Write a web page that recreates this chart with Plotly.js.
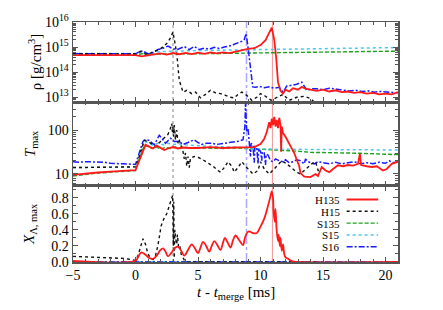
<!DOCTYPE html>
<html><head><meta charset="utf-8">
<script src="https://cdn.plot.ly/plotly-3.0.1.min.js"></script>
<style>html,body{margin:0;padding:0;background:#fff}#chart{width:443px;height:310px}</style>
</head><body><div id="chart"></div>
<script>
// ---------- data ----------
const modelNames = ['H135','H15','S135','S15','S16'];
const xTicks = [-5,0,5,10,15,20];
const rhoTickVals = [1e13,1e14,1e15,1e16];
const rhoTickText = ['10<sup>13</sup>','10<sup>14</sup>','10<sup>15</sup>','10<sup>16</sup>'];
const tTickVals = [10,100];
const tTickText = ['10','100'];
const xlTickVals = [0,0.2,0.4,0.6,0.8];
const xlTickText = ['0.0','0.2','0.4','0.6','0.8'];
const collapseTimes = [3.0, 8.88, 10.95]; // H15, S16, H135

// density panel
const rho_H135_t = [-5,-3,-1,0,0.5,1.0,1.5,2.0,2.5,3.0,3.5,4.0,4.5,5.0,5.5,6.0,6.5,7.0,7.5,8.0,8.5,9.0,9.5,10.0,10.4,10.7,10.9,11.0,11.1,11.25,11.4,11.6,11.8,12.0,12.3,12.6,13.0,13.3,13.6,14.0,14.5,15.0,15.5,16.0,16.5,17.0,17.5,18.0,18.5,19.0,19.5,20.0,20.5,21.0];
const rho_H135 = [4.8e14,4.8e14,4.8e14,4.8e14,4.3e14,4.6e14,5.2e14,5.6e14,5.0e14,5.8e14,5.2e14,5.9e14,5.3e14,6.0e14,5.4e14,6.1e14,5.6e14,6.2e14,5.8e14,6.6e14,7.5e14,8.5e14,9.0e14,1.2e15,1.9e15,3.5e15,6.0e15,3.5e15,1.9e15,4.0e14,4.0e13,1.8e13,1.4e13,2.0e13,1.7e13,2.3e13,2.0e13,2.6e13,2.2e13,2.0e13,1.8e13,2.0e13,1.7e13,1.9e13,1.6e13,1.7e13,1.5e13,1.6e13,1.4e13,1.5e13,1.3e13,1.4e13,1.3e13,1.6e13];
const rho_H15_t = [-5,-1,0,0.4,0.7,1.0,1.5,2.0,2.5,2.8,3.0,3.15,3.3,3.5,3.8,4.1,4.5,4.8,5.2,5.6,6.0,6.4,6.8,7.2,7.6,7.9,8.2,8.5,8.9,9.3,9.7,10.0,10.4,10.85,11.3,11.8,12.3,12.9,13.5,14.0,14.3,14.6];
const rho_H15 = [5.5e14,5.5e14,5.3e14,6.8e14,5.5e14,5.2e14,6.5e14,8.5e14,1.4e15,2.3e15,4.0e15,1.5e15,5.5e14,4.8e13,1.6e13,1.9e13,1.4e13,1.6e13,9.5e12,1.3e13,1.9e13,1.5e13,1.4e13,1.2e13,1.0e13,9.5e12,1.3e13,1.6e13,1.2e13,7.6e12,1.0e13,1.4e13,1.1e13,7.6e12,1.0e13,1.3e13,7.6e12,1.0e13,1.1e13,9.0e12,6.5e12,5.5e12];
const rho_S135_t = [-5,0,0.5,1,2,3,4,6,8,10,12,14,16,18,21];
const rho_S135 = [5.0e14,5.0e14,5.4e14,5.1e14,5.3e14,5.3e14,5.4e14,5.5e14,5.7e14,5.9e14,6.1e14,6.3e14,6.5e14,6.7e14,6.9e14];
const rho_S15_t = [-5,0,0.5,1,2,3,4,5,6,8,10,12,14,16,18,21];
const rho_S15 = [5.5e14,5.5e14,6.2e14,6.0e14,6.6e14,7.0e14,7.1e14,7.3e14,7.4e14,7.7e14,8.1e14,8.4e14,8.7e14,8.9e14,9.2e14,9.6e14];
const rho_S16_t = [-5,-1,0,0.3,0.6,0.9,1.2,1.5,1.8,2.2,2.6,3.0,3.4,3.9,4.3,4.7,5.1,5.5,5.9,6.3,6.7,7.1,7.5,7.9,8.2,8.5,8.7,8.85,9.0,9.2,9.38,9.6,9.9,10.3,10.7,11.1,11.5,11.8,12.1,12.5,12.9,13.3,13.7,14.1,14.5,15.0,15.5,16.1,16.6,17.1,17.6,18.1,18.6,19.1,19.6,20.1,20.6,21];
const rho_S16 = [5.5e14,5.5e14,5.4e14,6.5e14,7.0e14,5.6e14,5.4e14,6.5e14,8.0e14,9.0e14,1.1e15,8.5e14,8.2e14,1.05e15,8.0e14,1.05e15,8.0e14,9.0e14,8.2e14,9.8e14,8.8e14,1.0e15,1.1e15,1.3e15,1.45e15,1.7e15,2.0e15,3.5e15,1.0e15,1.2e14,2.6e13,2.5e13,2.7e13,2.4e13,2.6e13,2.3e13,2.5e13,1.6e13,2.8e13,3.0e13,3.3e13,4.0e13,1.9e13,2.2e13,2.2e13,2.0e13,2.3e13,2.1e13,1.9e13,1.8e13,1.9e13,1.7e13,1.8e13,1.6e13,1.7e13,1.6e13,1.5e13,1.5e13];

// temperature panel
const T_H135_t = [-5,-4,-3,-2,-1,0,0.3,0.6,0.8,1.1,1.4,1.7,2.0,2.3,2.6,3.0,3.4,3.8,4.3,5,6,7,8,9,9.5,10.0,10.3,10.5,10.7,10.8,10.9,11.0,11.1,11.2,11.3,11.4,11.5,11.6,11.65,11.7,11.8,12.0,12.2,12.4,12.7,12.9,13.1,13.2,13.5,14.0,14.4,14.6,14.9,15.2,15.5,15.8,16.2,16.6,17.0,17.4,17.8,17.95,18.05,18.5,18.9,19.3,19.8,20.1,20.5,21];
const T_H135 = [9.5,10.2,10.8,11.3,11.8,12.3,20,35,46,42,38,44,39,35,38,41,38,40,39,39,41,39,40,40,41,48,63,90,150,110,180,130,200,120,170,110,190,130,32,120,85,70,55,42,30,21,15,10.5,8.7,8.5,10,9,14.4,12,11,13,15.8,15,16,15.5,17,29,16,15,14.4,15,12,13,17,19];
const T_H15_t = [-5,-3,-1,0,0.3,0.7,1.0,1.3,1.6,2.0,2.3,2.6,2.8,2.9,2.95,3.0,3.05,3.1,3.2,3.3,3.4,3.5,3.6,3.75,3.9,4.0,4.1,4.2,4.3,4.4,4.7,5.0,5.4,5.8,6.2,6.6,6.8,7.1,7.4,7.7,7.9,8.2,8.5,8.9,9.4,9.8,10.0,10.3,10.7,11.2,11.7,12.1,12.5,12.9,13.2,13.5,13.8,14.1,14.4,14.6,14.7];
const T_H15 = [14,14,14.5,14.5,25,58,55,48,42,55,65,80,110,140,90,120,70,130,60,100,50,60,45,40,22,30,15,25,14,23,25,24,21,18,15,12,11,14,19,15,11,14,19,14,10,12,19,13,10,14,20,17,14,11,10,12,14,17,19,12,10];
const T_S135_t = [-5,-4,-3,-2,-1,0,0.3,0.7,1.0,1.3,1.6,2,2.4,2.8,3.2,3.6,4,5,6,7,8,9,10,11,12,13,14,15,16,17,18,19,20,21];
const T_S135 = [9,9.8,10.5,11,11.5,12,22,45,42,38,42,37,40,38,41,38,40,39,38,38,39,38,37,36,35,33,31,31,31,30,29.5,29,28,27.5];
const T_S15_t = [-5,-3,-1,0,0.3,0.7,1.0,1.4,1.8,2.2,2.6,3,3.5,4,5,6,7,8,8.5,9,10,12,14,16,18,21];
const T_S15 = [14,14.2,14.5,14.5,25,55,52,45,50,46,50,47,48,46,44,43,42,41,40,38,37,36.5,36,35.5,35,35];
const T_S16_t = [-5,-4.5,-4,-3.5,-3,-2.5,-2,-1.5,-1,-0.5,0,0.3,0.6,0.8,1.1,1.5,1.9,2.1,2.4,2.8,3.1,3.5,3.8,4.2,4.7,5.0,5.3,5.7,6.1,6.5,7.0,7.5,7.9,8.3,8.6,8.75,8.8,8.85,8.9,9.0,9.1,9.2,9.25,9.4,9.5,9.55,9.7,9.8,9.85,10.0,10.1,10.15,10.3,10.4,10.45,10.6,10.8,11.0,11.2,11.5,11.8,12.0,12.3,12.6,12.9,13.2,13.5,13.6,13.8,14.0,14.3,14.6,15,15.5,16,16.5,17,17.5,18,18.5,19,19.5,20,20.3,20.6,21];
const T_S16 = [19,18.5,19,18.8,18,18.5,17.5,17.5,17,16.8,16.5,30,55,61,58,46,76,65,50,65,55,55,47,52,60,52,47,50,50,47,49,51,53,56,60,120,398,200,90,110,55,25,50,45,18,42,40,17,35,33,20,32,30,16,28,27,20,19,22,20,19,21,18,19,21,20,17,22,19,18,17,19,18,17,18.5,17,18,19,17,18,17,18.5,17.5,20,18,19];

// hyperon fraction panel
const XL_H135_t = [-5,0,0.2,0.46,0.8,1.1,1.4,1.7,2.0,2.2,2.4,2.6,2.9,3.2,3.4,3.65,3.9,4.2,4.5,4.75,5.0,5.2,5.4,5.65,5.9,6.1,6.3,6.55,6.8,7.0,7.15,7.35,7.6,7.8,8.0,8.3,8.6,8.75,8.95,9.1,9.4,9.7,10.0,10.3,10.6,10.8,10.9,11.0,11.05,11.15,11.2,11.3,11.4,11.45,11.55,11.6,11.7,11.8,11.9,12.0,12.2,12.5,13,21];
const XL_H135 = [0.015,0.015,0.06,0.12,0.09,0.05,0.04,0.08,0.15,0.17,0.13,0.07,0.12,0.18,0.19,0.14,0.08,0.15,0.22,0.17,0.11,0.18,0.25,0.2,0.13,0.2,0.26,0.21,0.15,0.24,0.3,0.25,0.18,0.27,0.33,0.27,0.21,0.3,0.37,0.38,0.36,0.36,0.44,0.54,0.7,0.82,0.88,0.8,0.62,0.5,0.66,0.38,0.26,0.34,0.2,0.3,0.14,0.22,0.1,0.06,0.04,0.01,0,0];
const XL_H15_t = [-5,-4,-3,-2,-1,-0.5,0,0.2,0.4,0.6,0.8,1.0,1.2,1.4,1.6,1.8,2.05,2.3,2.5,2.7,2.85,2.97,3.0,3.03,3.06,3.1,3.15,3.2,3.3,3.35,3.45,3.55,3.65,3.8,3.95,4.1,14.7];
const XL_H15 = [0.07,0.065,0.06,0.055,0.045,0.035,0.02,0.08,0.2,0.29,0.22,0.1,0.05,0.03,0.08,0.21,0.45,0.55,0.6,0.69,0.76,0.83,0.6,0.2,0.75,0.05,0.4,0.3,0.22,0.34,0.18,0.2,0.1,0.05,0.01,0,0];
const XL_S135_t = [-5,0,5,10,15,21];
const XL_S135 = [0,0,0,0,0,0];
const XL_S15_t = [-5,0,5,10,15,21];
const XL_S15 = [0,0,0,0,0,0];
const XL_S16_t = [-5,0,5,10,15,21];
const XL_S16 = [0,0,0,0,0,0];

// ---------- styles ----------
const FONT = '"Liberation Serif", "Times New Roman", serif';
const style = {
  H135: {color:'#ff1a1a', dash:'solid', width:1.8},
  H15:  {color:'#111111', dash:'dot', width:1.4},
  S135: {color:'#1ea01e', dash:'4px,2px', width:1.4},
  S15:  {color:'#4cc6ea', dash:'dot', width:1.5},
  S16:  {color:'#1a1aff', dash:'6px,2px,2px,2px', width:1.5}
};
const panels = [
  {xa:'x', ya:'y', data:{H135:[rho_H135_t,rho_H135],H15:[rho_H15_t,rho_H15],S135:[rho_S135_t,rho_S135],S15:[rho_S15_t,rho_S15],S16:[rho_S16_t,rho_S16]}},
  {xa:'x2', ya:'y2', data:{H135:[T_H135_t,T_H135],H15:[T_H15_t,T_H15],S135:[T_S135_t,T_S135],S15:[T_S15_t,T_S15],S16:[T_S16_t,T_S16]}},
  {xa:'x3', ya:'y3', data:{H135:[XL_H135_t,XL_H135],H15:[XL_H15_t,XL_H15],S135:[XL_S135_t,XL_S135],S15:[XL_S15_t,XL_S15],S16:[XL_S16_t,XL_S16]}}
];
const drawOrder = ['S135','S15','S16','H15','H135'];
const traces = [];
panels.forEach((p, pi) => {
  drawOrder.forEach(n => {
    const s = style[n];
    const line = {color:s.color, dash:s.dash, width:s.width};
    if (pi === 2 && n === 'H135') { line.shape = 'spline'; line.smoothing = 1.0; }
    traces.push({type:'scatter', mode:'lines', name:n, x:p.data[n][0], y:p.data[n][1],
      xaxis:p.xa, yaxis:p.ya, line:line, showlegend:false, hoverinfo:'skip'});
  });
});

// ---------- layout ----------
const frame = '#555';
const tickFont = {family:FONT, size:14, color:'#000'};
function xAxis(anchor, labels) {
  return {range:[-5,21], anchor:anchor, tickvals:xTicks, ticks:'inside', ticklen:5, tickcolor:frame,
    showline:true, linecolor:frame, linewidth:1.5, mirror:'allticks', showgrid:false, zeroline:false,
    showticklabels:labels, tickfont:tickFont,
    minor:{ticks:'inside', ticklen:3, dtick:1, tick0:0, tickcolor:frame}};
}
function logMinor(lo, hi) {
  const v = [];
  for (let e = lo; e <= hi; e++) for (let m = 2; m <= 9; m++) v.push(m * Math.pow(10, e));
  return v;
}
const dom3 = [0, 0.318], dom2 = [0.318, 0.6654], dom1 = [0.6654, 1];
function yBase(domain) {
  return {domain:domain, ticks:'inside', ticklen:5, tickcolor:frame, showline:true, linecolor:frame,
    linewidth:1.5, mirror:'allticks', showgrid:false, zeroline:false, tickfont:tickFont};
}
const layout = {
  width:443, height:310, margin:{l:73, r:45, t:22, b:48},
  paper_bgcolor:'#fff', plot_bgcolor:'#fff', showlegend:false,
  font:{family:FONT, color:'#000'},
  xaxis: xAxis('y', false),
  xaxis2: Object.assign(xAxis('y2', false), {matches:'x'}),
  xaxis3: Object.assign(xAxis('y3', true), {matches:'x'}),
  yaxis: Object.assign(yBase(dom1), {type:'log', range:[12.8,16], tickvals:rhoTickVals, ticktext:rhoTickText,
    minor:{tickmode:'array', tickvals:logMinor(12,15), ticks:'inside', ticklen:3, tickcolor:frame}}),
  yaxis2: Object.assign(yBase(dom2), {type:'log', range:[0.734,2.63], tickvals:tTickVals, ticktext:tTickText,
    minor:{tickmode:'array', tickvals:logMinor(0,2), ticks:'inside', ticklen:3, tickcolor:frame}}),
  yaxis3: Object.assign(yBase(dom3), {range:[0,0.95], tickvals:xlTickVals, ticktext:xlTickText,
    minor:{ticks:'inside', ticklen:3, dtick:0.1, tick0:0, tickcolor:frame}}),
  shapes: [], annotations: []
};
// collapse-time markers across all panels
const markerStyle = [
  {color:'#9a9a9a', dash:'dot', width:1.2},
  {color:'#a8a8ff', dash:'dashdot', width:1.5},
  {color:'#f29090', dash:'solid', width:1}
];
collapseTimes.forEach((t, i) => {
  layout.shapes.push({type:'line', xref:'x', yref:'paper', x0:t, x1:t, y0:0, y1:1, layer:'below', line:markerStyle[i]});
});
// manual legend (gnuplot style: label then sample)
const legY = [0.2604, 0.2113, 0.1621, 0.1129, 0.0638];
modelNames.forEach((n, i) => {
  const s = style[n];
  layout.shapes.push({type:'line', xref:'paper', yref:'paper', x0:0.842, x1:0.939, y0:legY[i], y1:legY[i],
    line:{color:s.color, dash:s.dash, width:s.width}});
  layout.annotations.push({xref:'paper', yref:'paper', x:0.825, y:legY[i], xanchor:'right', yanchor:'middle',
    text:n, showarrow:false, height:11, borderpad:0, font:{family:FONT, size:11, color:'#000'}});
});
// axis titles
const tf = {family:FONT, size:15, color:'#000'};
layout.annotations.push({xref:'paper', yref:'y domain', x:-0.117, y:0.5, textangle:-90, xanchor:'center', yanchor:'middle',
  text:'ρ [g/cm<sup>3</sup>]', showarrow:false, font:tf});
layout.annotations.push({xref:'paper', yref:'y2 domain', x:-0.129, y:0.5, textangle:-90, xanchor:'center', yanchor:'middle',
  text:'<i>T</i><sub>max</sub>', showarrow:false, font:tf});
layout.annotations.push({xref:'paper', yref:'y3 domain', x:-0.132, y:0.5, textangle:-90, xanchor:'center', yanchor:'middle',
  text:'<i>X</i><sub>Λ, max</sub>', showarrow:false, font:tf});
layout.annotations.push({xref:'paper', yref:'paper', x:0.5, y:-0.128, xanchor:'center', yanchor:'middle',
  text:'<i>t</i> - <i>t</i><sub>merge</sub> [ms]', showarrow:false, font:tf});

Plotly.newPlot('chart', traces, layout, {staticPlot:true, displayModeBar:false});
</script>
</body></html>
